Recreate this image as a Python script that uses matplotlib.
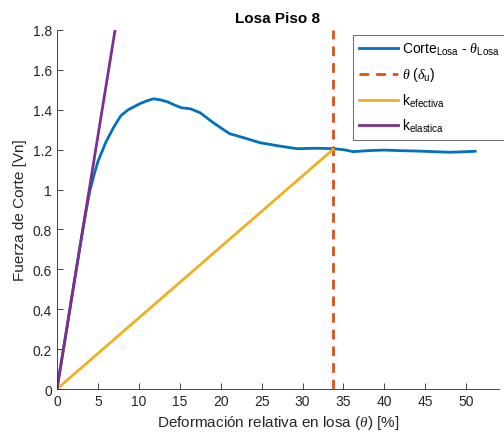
import matplotlib
matplotlib.use("Agg")
import matplotlib.pyplot as plt

plt.rcParams['font.family'] = ['Liberation Sans', 'DejaVu Sans']
plt.rcParams['mathtext.fontset'] = 'custom'
plt.rcParams['mathtext.rm'] = 'Liberation Sans'
plt.rcParams['mathtext.it'] = 'Liberation Serif:italic'

# Shear vs. slab drift curve
theta = [0, 1.0, 2.0, 3.0, 3.5, 4.0, 4.5, 5.0, 5.5, 6.0, 6.9, 7.8, 8.7, 10.1,
         11.0, 11.8, 12.6, 13.5, 14.3, 15.2, 16.3, 17.5, 18.3, 19.1, 20.0, 21.1,
         22.8, 24.0, 24.8, 26.9, 29.3, 31.7, 33.7, 35.0, 36.2, 38.0, 39.9, 42.0,
         44.0, 46.0, 48.0, 50.0, 51.1]
corte = [0, 0.25, 0.51, 0.76, 0.88, 0.99, 1.07, 1.14, 1.19, 1.24, 1.31, 1.37,
         1.40, 1.43, 1.445, 1.455, 1.45, 1.44, 1.425, 1.41, 1.405, 1.385, 1.36,
         1.335, 1.31, 1.28, 1.26, 1.245, 1.235, 1.22, 1.205, 1.207, 1.205, 1.20,
         1.19, 1.195, 1.198, 1.195, 1.193, 1.19, 1.187, 1.19, 1.192]

theta_u = 33.7
k_efectiva_x = [0, 33.7]
k_efectiva_y = [0, 1.2]
k_elastica_x = [0, 7.1]
k_elastica_y = [0, 1.8]

c_blue = '#0072BD'
c_orange = '#D95319'
c_yellow = '#EDB120'
c_purple = '#7E2F8E'
c_axis = '#262626'

fig = plt.figure(figsize=(5.04, 4.39), dpi=100)
ax = fig.add_axes([0.113, 0.1116, 0.877, 0.8178])

ax.plot(theta, corte, color=c_blue, lw=2.0,
        label=r'Corte$_{\mathrm{Losa}}$ - $\theta_{\mathrm{Losa}}$')
ax.axvline(theta_u, color=c_orange, lw=2.0, ls=(0, (3.5, 2.5)),
           label=r'$\theta$ ($\delta_{\mathrm{u}}$)')
ax.plot(k_efectiva_x, k_efectiva_y, color=c_yellow, lw=2.0,
        label=r'k$_{\mathrm{efectiva}}$')
ax.plot(k_elastica_x, k_elastica_y, color=c_purple, lw=2.0,
        label=r'k$_{\mathrm{elastica}}$')

ax.set_xlim(0, 54)
ax.set_ylim(0, 1.8)
ax.set_xticks(range(0, 55, 5))
ax.set_yticks([0, 0.2, 0.4, 0.6, 0.8, 1, 1.2, 1.4, 1.6, 1.8])
ax.set_yticklabels(['0', '0.2', '0.4', '0.6', '0.8', '1', '1.2', '1.4', '1.6', '1.8'])

for s in ['top', 'right']:
    ax.spines[s].set_visible(False)
for s in ['left', 'bottom']:
    ax.spines[s].set_color(c_axis)
    ax.spines[s].set_linewidth(0.6)
ax.tick_params(direction='in', length=4, width=0.6, colors=c_axis,
               labelsize=10, labelcolor=c_axis)

ax.set_xlabel(r'Deformación relativa en losa ($\theta$) [%]', fontsize=11, color=c_axis)
ax.set_ylabel('Fuerza de Corte [Vn]', fontsize=11, color=c_axis)
ax.set_title('Losa Piso 8', fontsize=11, fontweight='bold', color='black', pad=6)

leg = ax.legend(loc='upper left', bbox_to_anchor=(0.67, 0.985), fontsize=10,
                frameon=True, fancybox=False, handlelength=2.8, handletextpad=0.3,
                labelspacing=0.6, borderpad=0.4, borderaxespad=0)
leg.get_frame().set_edgecolor(c_axis)
leg.get_frame().set_linewidth(0.6)

fig.savefig('out.png', dpi=100)
